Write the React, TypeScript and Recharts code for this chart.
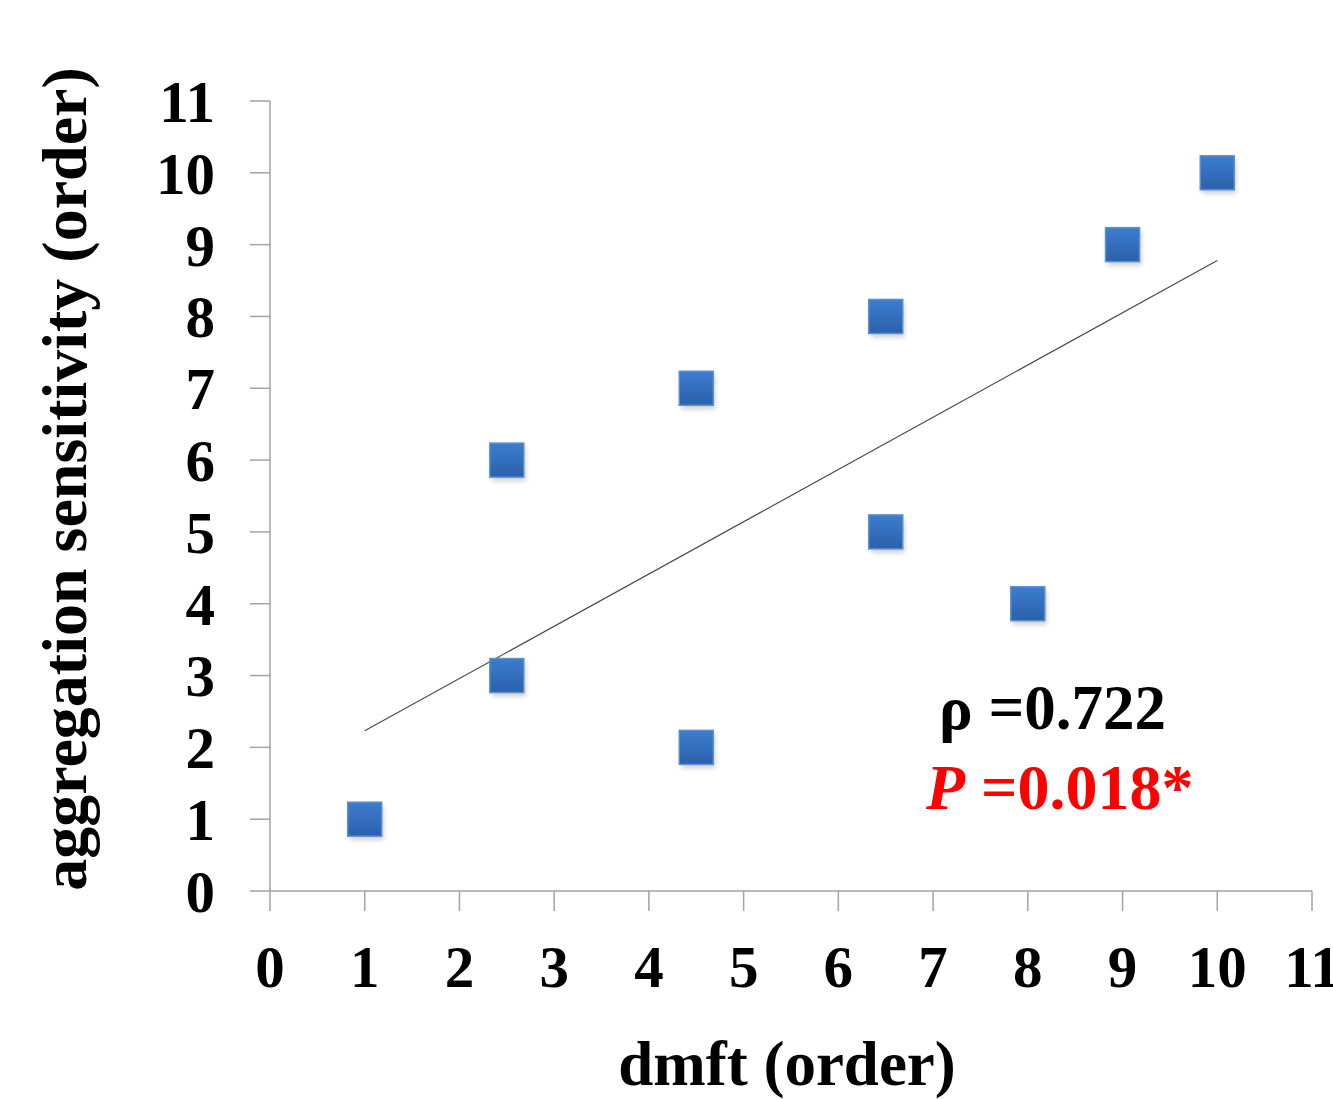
import React from 'react';
import { ScatterChart, Scatter, XAxis, YAxis, Customized } from 'recharts';

const dmftOrder = [1, 2.5, 2.5, 4.5, 4.5, 6.5, 6.5, 8, 9, 10];
const sensitivityOrder = [1, 3, 6, 2, 7, 5, 8, 4, 9, 10];
const trendX = [1, 10];
const trendY = [2.23, 8.78];
const axisTicks = [0, 1, 2, 3, 4, 5, 6, 7, 8, 9, 10, 11];

const points = dmftOrder.map((x, i) => ({ x, y: sensitivityOrder[i] }));
const trend = trendX.map((x, i) => ({ x, y: trendY[i] }));

const FONT = '"Liberation Serif", "Times New Roman", serif';
const AXIS = '#a3a3a3';

const Square = (props: any) => {
  const { cx, cy } = props;
  if (cx == null || cy == null) return null;
  const s = 34;
  return (
    <g>
      <rect x={cx - s / 2 + 2} y={cy - s / 2 + 4} width={s} height={s} fill="#000" opacity={0.18} filter="url(#blurShadow)" />
      <rect x={cx - s / 2} y={cy - s / 2} width={s} height={s} fill="url(#sqGrad)" stroke="#5b8fd3" strokeWidth={1.5} />
    </g>
  );
};

const Annotation = () => (
  <g fontFamily={FONT} fontWeight="bold">
    <text x={939} y={729} fill="#000" fontSize={63}>ρ =0.722</text>
    <text x={926} y={809} fill="#ff0000" fontSize={64}>
      <tspan fontStyle="italic">P</tspan> =0.018*
    </text>
  </g>
);

export default function App() {
  return (
    <div style={{ position: 'absolute', left: 0, top: 0, width: 1333, height: 1099, background: '#fff' }}>
      <ScatterChart width={1333} height={1099} margin={{ top: 101, right: 21, left: 0, bottom: 0 }}>
        <defs>
          <linearGradient id="sqGrad" x1="0" y1="0" x2="0" y2="1">
            <stop offset="0%" stopColor="#3c7dcf" />
            <stop offset="100%" stopColor="#2c60aa" />
          </linearGradient>
          <filter id="blurShadow" x="-50%" y="-50%" width="200%" height="200%">
            <feGaussianBlur stdDeviation="2.5" />
          </filter>
        </defs>
        <XAxis
          type="number"
          dataKey="x"
          domain={[0, 11]}
          ticks={axisTicks}
          interval={0}
          height={208}
          tickSize={20}
          tickMargin={34}
          axisLine={{ stroke: AXIS, strokeWidth: 1.5 }}
          tickLine={{ stroke: AXIS, strokeWidth: 1.5 }}
          tick={{ fill: '#000', fontSize: 59, fontWeight: 'bold', fontFamily: FONT }}
          label={{
            content: (p: any) => {
              const vb = p.viewBox;
              return (
                <text x={vb.x + vb.width / 2 - 4} y={vb.y + 194} textAnchor="middle" fontFamily={FONT} fontWeight="bold" fontSize={63} fill="#000">
                  dmft (order)
                </text>
              );
            },
          }}
        />
        <YAxis
          type="number"
          dataKey="y"
          domain={[0, 11]}
          ticks={axisTicks}
          interval={0}
          width={270}
          tickSize={20}
          tickMargin={35}
          axisLine={{ stroke: AXIS, strokeWidth: 1.5 }}
          tickLine={{ stroke: AXIS, strokeWidth: 1.5 }}
          tick={{ fill: '#000', fontSize: 59, fontWeight: 'bold', fontFamily: FONT }}
          label={{
            content: (p: any) => {
              const vb = p.viewBox;
              const cx = vb.x + 86;
              const cy = vb.y + vb.height / 2 - 17;
              return (
                <text x={cx} y={cy} transform={`rotate(-90 ${cx} ${cy})`} textAnchor="middle" fontFamily={FONT} fontWeight="bold" fontSize={64} fill="#000">
                  aggregation sensitivity (order)
                </text>
              );
            },
          }}
        />
        <Scatter data={trend} line={{ stroke: '#4a4a4a', strokeWidth: 1.2 }} shape={() => null} isAnimationActive={false} />
        <Scatter data={points} shape={Square} isAnimationActive={false} />
        <Customized component={Annotation} />
      </ScatterChart>
    </div>
  );
}
